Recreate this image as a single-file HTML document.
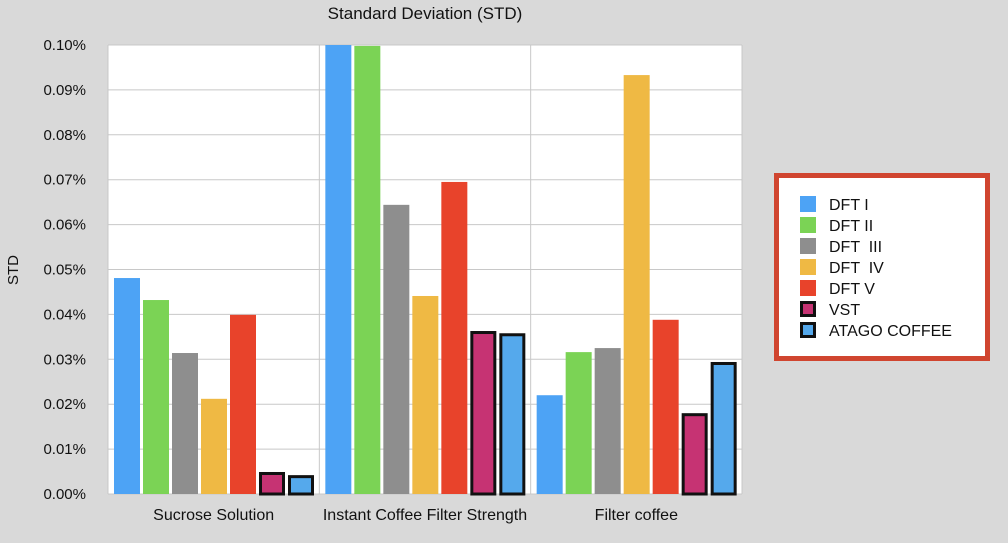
<!DOCTYPE html>
<html><head><meta charset="utf-8"><style>
body{margin:0;background:#d9d9d9;width:1008px;height:543px;overflow:hidden;font-family:"Liberation Sans",sans-serif}
svg{display:block}
</style></head><body>
<svg id="chart" width="1008" height="543">
<rect width="1008" height="543" fill="#d9d9d9"/>
<text x="425" y="19" text-anchor="middle" font-size="17" fill="#111">Standard Deviation (STD)</text>
<text transform="translate(18,270) rotate(-90)" text-anchor="middle" font-size="15" fill="#111">STD</text>
<g id="plot"></g>
<g>
<rect x="776.5" y="175.5" width="211" height="183" fill="#fff" stroke="#d0452f" stroke-width="5"/>
<g id="legend"></g>
</g>
</svg>
<script>
const categories=["Sucrose Solution","Instant Coffee Filter Strength","Filter coffee"];
const seriesNames=["DFT I","DFT II","DFT  III","DFT  IV","DFT V","VST","ATAGO COFFEE"];
const dft1=[0.0481,0.1000,0.0220];
const dft2=[0.0432,0.0998,0.0316];
const dft3=[0.0314,0.0644,0.0325];
const dft4=[0.0212,0.0441,0.0933];
const dft5=[0.0399,0.0695,0.0388];
const vst=[0.0049,0.0363,0.0180];
const atago=[0.0042,0.0358,0.0294];
const yTicks=[0,0.01,0.02,0.03,0.04,0.05,0.06,0.07,0.08,0.09,0.10];
const tickLabels=["0.00%","0.01%","0.02%","0.03%","0.04%","0.05%","0.06%","0.07%","0.08%","0.09%","0.10%"];
const series=[dft1,dft2,dft3,dft4,dft5,vst,atago];
const colors=["#4da3f5","#7bd355","#8e8e8e","#efb944","#e8432b","#c63373","#55a9ec"];
const bordered=[false,false,false,false,false,true,true];
const NS="http://www.w3.org/2000/svg";
const X0=108,X1=742,Y0=494,Y1=45;
const y=v=>Y0-(v/0.10)*(Y0-Y1);
const gw=(X1-X0)/categories.length;
const x=(g,s)=>X0+g*gw+6+s*29;
function mk(tag,attrs,parent){const e=document.createElementNS(NS,tag);for(const k in attrs)e.setAttribute(k,attrs[k]);parent.appendChild(e);return e;}
const plot=document.getElementById('plot');
const bg=mk('rect',{x:X0,y:Y1,width:X1-X0,height:Y0-Y1,fill:'#fff'},plot);


yTicks.forEach((t,i)=>{
 const l=mk('line',{x1:X0,x2:X1,y1:y(t),y2:y(t),stroke:'#c8c8c8','stroke-width':1},plot);
 
 
 const tx=mk('text',{x:X0-22,y:y(t)+5,'text-anchor':'end','font-size':15,fill:'#111'},plot);
 tx.textContent=tickLabels[i];
 
 
});
for(let g=0;g<=categories.length;g++){
 const l=mk('line',{x1:X0+g*gw,x2:X0+g*gw,y1:Y1,y2:Y0,stroke:'#c8c8c8','stroke-width':1},plot);
 
 
}
categories.forEach((c,g)=>{
 series.forEach((arr,s)=>{
  const top=y(arr[g]);
  const attrs={x:x(g,s),y:top,width:26,height:Y0-top,fill:colors[s]};
  if(bordered[s]){attrs.x=x(g,s)+1.5;attrs.y=top+1.5;attrs.width=23;attrs.height=Y0-top-1.5;attrs.stroke='#111';attrs['stroke-width']=3;}
  const r=mk('rect',attrs,plot);
  
  
 });
 const t=mk('text',{x:X0+g*gw+gw/2,y:520,'text-anchor':'middle','font-size':16,fill:'#111'},plot);
 t.textContent=c;
 
 
});
const lg=document.getElementById('legend');
seriesNames.forEach((n,i)=>{
 const cy=204+i*21;
 const sw=mk('rect',bordered[i]?{x:801.5,y:cy-6.5,width:13,height:13,fill:colors[i],stroke:'#111','stroke-width':3}:{x:800,y:cy-8,width:16,height:16,fill:colors[i]},lg);
 
 
 const t=mk('text',{x:829,y:cy+6,'font-size':16,fill:'#111','xml:space':'preserve'},lg);
 t.style.whiteSpace='pre';
 t.textContent=n;
 
 
});
</script>
</body></html>
